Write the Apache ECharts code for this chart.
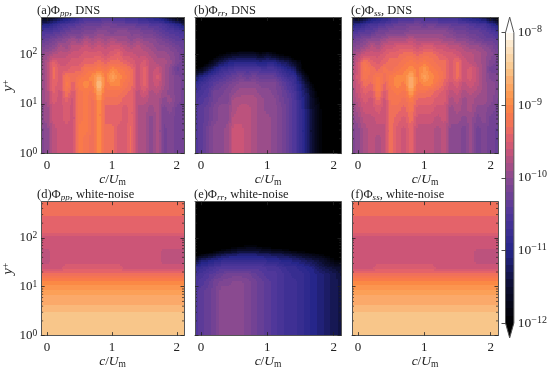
<!DOCTYPE html>
<html><head><meta charset="utf-8">
<style>html,body{margin:0;background:#fff}#c{width:550px;height:370px}</style>
<script src="https://cdn.jsdelivr.net/npm/echarts@6/dist/echarts.min.js"></script>
</head><body><div id="c"></div>
<script>
// Node positions of the value lattice. Values are log10(Phi) x 10.
const cNodes = [-0.1,0,0.1,0.2,0.3,0.4,0.5,0.6,0.7,0.8,0.9,1,1.1,1.2,1.3,1.4,1.5,1.6,1.7,1.8,1.9,2,2.12];
const yNodes = [560,400,280,200,140,100,70,50,35,25,18,12,8,5,3,2,1];
const yMinorTicks = [2,3,4,5,6,7,8,9,20,30,40,50,60,70,80,90,200,300,400,500];
const xTickValues = [0,1,2];
const yTickValues = [1,10,100];
const phiPpDns = [
[-118,-118,-116,-114,-112,-110,-108,-106,-106,-106,-105,-106,-106,-107,-108,-108,-109,-110,-111,-113,-116,-118,-120],
[-111,-111,-109,-107,-106,-105,-104,-103,-103,-103,-102,-102,-103,-103,-103,-104,-104,-105,-105,-106,-108,-110,-113],
[-106,-105,-105,-104,-103,-102,-102,-101,-101,-100,-100,-101,-100,-100,-101,-101,-102,-102,-103,-104,-105,-105,-107],
[-104,-103,-102,-101,-100,-99,-100,-98,-99,-98,-99,-98,-99,-99,-100,-99,-100,-100,-101,-102,-103,-104,-104],
[-102,-101,-100,-98,-99,-97,-97,-96,-97,-96,-97,-96,-96,-97,-98,-97,-98,-99,-100,-100,-101,-102,-103],
[-100,-99,-98,-97,-97,-96,-96,-95,-95,-95,-96,-95,-94,-96,-96,-97,-97,-98,-99,-99,-100,-101,-103],
[-100,-98,-94,-96,-96,-95,-95,-94,-94,-93,-94,-93,-93,-94,-95,-96,-95,-97,-98,-98,-99,-101,-102],
[-100,-98,-93,-95,-95,-94,-94,-92,-92,-91,-92,-90,-91,-92,-93,-96,-94,-97,-96,-98,-100,-103,-102],
[-100,-98,-93,-95,-92,-93,-92,-91,-90,-87,-91,-88,-90,-91,-93,-96,-94,-97,-95,-98,-100,-101,-102],
[-100,-98,-94,-95,-91,-94,-91,-90,-91,-85,-91,-90,-90,-92,-93,-96,-94,-97,-96,-98,-100,-101,-102],
[-100,-98,-94,-96,-92,-95,-92,-91,-92,-87,-92,-92,-92,-93,-94,-97,-95,-98,-97,-99,-100,-101,-102],
[-100,-98,-95,-96,-94,-96,-92,-91,-93,-89,-93,-93,-93,-94,-94,-97,-97,-98,-98,-100,-99,-101,-102],
[-100,-99,-96,-96,-95,-96,-92,-91,-93,-90,-94,-94,-94,-95,-94,-98,-98,-99,-98,-101,-100,-102,-102],
[-100,-99,-96,-96,-95,-96,-92,-91,-93,-90,-94,-94,-94,-95,-94,-98,-98,-100,-98,-101,-101,-102,-102],
[-101,-100,-97,-96,-96,-96,-91,-91,-93,-90,-93,-93,-95,-95,-93,-98,-98,-100,-98,-102,-101,-102,-102],
[-101,-100,-97,-96,-96,-96,-91,-92,-93,-90,-93,-93,-95,-95,-93,-98,-98,-100,-98,-102,-101,-102,-102],
[-101,-100,-97,-96,-96,-96,-91,-92,-93,-90,-93,-93,-95,-95,-93,-98,-98,-100,-98,-102,-101,-102,-102]];
const phiRrDns = [
[-125,-125,-125,-125,-125,-125,-125,-125,-125,-125,-125,-125,-125,-125,-125,-125,-125,-125,-125,-125,-125,-125,-125],
[-125,-125,-125,-125,-125,-125,-125,-125,-125,-125,-125,-125,-125,-125,-125,-125,-125,-125,-125,-125,-125,-125,-125],
[-125,-125,-125,-125,-125,-125,-125,-125,-125,-125,-125,-125,-125,-125,-125,-125,-125,-125,-125,-125,-125,-125,-125],
[-125,-125,-125,-125,-125,-125,-125,-125,-125,-125,-125,-125,-125,-125,-125,-125,-125,-125,-125,-125,-125,-125,-125],
[-125,-125,-125,-125,-125,-125,-125,-125,-125,-125,-125,-125,-125,-125,-125,-125,-125,-125,-125,-125,-125,-125,-125],
[-125,-125,-125,-123,-120,-118,-117,-116,-116,-116,-118,-116,-118,-120,-121,-125,-125,-125,-125,-125,-125,-125,-125],
[-125,-124,-120,-116,-113,-111,-110,-110,-110,-110,-111,-110,-110,-112,-113,-116,-119,-125,-125,-125,-125,-125,-125],
[-120,-118,-114,-111,-108,-107,-106,-105,-106,-105,-106,-106,-106,-108,-110,-112,-118,-122,-125,-125,-125,-125,-125],
[-113,-110,-108,-106,-105,-104,-103,-102,-103,-102,-103,-103,-103,-105,-107,-108,-113,-118,-125,-125,-125,-125,-125],
[-109,-107,-106,-104,-103,-102,-101,-100,-100,-100,-101,-101,-101,-103,-105,-107,-111,-115,-120,-125,-125,-125,-125],
[-107,-106,-105,-102,-102,-101,-100,-99,-99,-99,-100,-100,-101,-102,-104,-106,-110,-113,-118,-122,-125,-125,-125],
[-106,-105,-104,-102,-101,-101,-98,-98,-98,-98,-99,-100,-100,-102,-103,-105,-109,-112,-117,-120,-124,-125,-125],
[-105,-104,-103,-101,-100,-100,-98,-97,-97,-98,-99,-100,-100,-101,-103,-105,-108,-112,-116,-119,-123,-125,-125],
[-105,-104,-103,-101,-100,-100,-97,-97,-97,-98,-99,-99,-100,-101,-103,-105,-108,-111,-116,-119,-122,-125,-125],
[-105,-104,-102,-100,-100,-99,-96,-96,-97,-98,-99,-99,-100,-101,-103,-105,-108,-112,-116,-119,-122,-125,-125],
[-105,-104,-102,-100,-100,-99,-96,-96,-97,-98,-99,-99,-100,-101,-103,-105,-108,-112,-116,-119,-122,-125,-125],
[-105,-104,-102,-100,-100,-99,-96,-96,-97,-98,-99,-99,-100,-101,-103,-105,-108,-112,-116,-119,-122,-125,-125]];
const phiSsDns = [
[-116,-118,-116,-113,-111,-110,-108,-107,-106,-107,-105,-106,-106,-107,-108,-108,-108,-110,-111,-112,-114,-117,-120],
[-111,-110,-108,-106,-106,-105,-104,-103,-103,-102,-102,-103,-102,-103,-103,-104,-104,-104,-105,-106,-106,-109,-112],
[-106,-105,-104,-104,-102,-102,-101,-101,-101,-100,-100,-100,-100,-100,-100,-101,-102,-102,-103,-103,-104,-105,-107],
[-103,-102,-101,-100,-100,-99,-98,-98,-98,-97,-98,-98,-98,-98,-99,-99,-100,-100,-101,-102,-103,-103,-104],
[-101,-100,-99,-97,-98,-96,-96,-95,-95,-95,-96,-95,-95,-96,-96,-97,-97,-98,-99,-99,-100,-101,-103],
[-99,-98,-96,-96,-96,-95,-94,-94,-93,-93,-94,-93,-93,-94,-95,-95,-96,-97,-97,-98,-99,-100,-102],
[-99,-96,-92,-94,-95,-94,-93,-93,-92,-91,-92,-91,-92,-93,-93,-95,-93,-96,-97,-98,-99,-101,-102],
[-98,-96,-91,-93,-94,-92,-93,-92,-91,-90,-91,-89,-91,-92,-93,-95,-93,-96,-95,-97,-99,-102,-102],
[-98,-95,-92,-93,-91,-93,-91,-90,-90,-87,-91,-88,-90,-91,-93,-95,-93,-96,-95,-97,-99,-101,-101],
[-98,-96,-93,-94,-90,-94,-91,-90,-91,-86,-91,-90,-90,-92,-94,-96,-95,-97,-96,-97,-99,-100,-101],
[-99,-96,-94,-95,-91,-95,-92,-91,-92,-88,-92,-92,-93,-94,-95,-97,-96,-98,-97,-98,-99,-100,-101],
[-99,-97,-95,-96,-93,-96,-92,-92,-93,-91,-94,-94,-94,-95,-95,-98,-97,-99,-98,-99,-99,-100,-102],
[-100,-98,-96,-96,-95,-96,-93,-93,-94,-92,-95,-95,-95,-96,-96,-99,-98,-99,-98,-100,-100,-101,-102],
[-100,-99,-97,-97,-96,-96,-93,-94,-95,-93,-96,-96,-96,-97,-96,-99,-99,-100,-99,-101,-100,-102,-102],
[-101,-100,-98,-97,-97,-97,-93,-95,-96,-94,-97,-97,-97,-98,-97,-100,-100,-101,-99,-102,-101,-102,-103],
[-101,-100,-98,-97,-98,-97,-93,-95,-96,-94,-97,-97,-97,-98,-97,-100,-100,-101,-99,-102,-101,-102,-103],
[-101,-100,-98,-97,-98,-97,-93,-95,-96,-94,-97,-97,-97,-98,-97,-100,-100,-101,-99,-102,-101,-102,-103]];
const phiPpNoise = [
[-93,-93,-93,-93,-93,-93,-93,-93,-93,-93,-93,-93,-93,-93,-93,-93,-93,-93,-93,-93,-93,-93,-93],
[-93,-93,-93,-93,-93,-93,-93,-93,-93,-93,-93,-93,-93,-93,-93,-93,-93,-93,-93,-93,-93,-93,-93],
[-93.5,-93.5,-93.5,-93.5,-93.5,-93.5,-93.5,-93.5,-93.5,-93.5,-93.5,-93.5,-93.5,-93.5,-93.5,-93.5,-93.5,-93.5,-93.5,-93.5,-93.5,-93.5,-93.5],
[-94,-94,-94,-94,-94,-94,-94,-94,-94,-94,-94,-94,-94,-94,-94,-94,-94,-94,-94,-94,-94,-94,-94],
[-94,-94,-94,-94,-94,-94,-94,-94,-94,-94,-94,-94,-94,-94,-94,-94,-94,-94,-94,-94,-94,-94,-94],
[-96,-96,-96,-96,-96,-96,-96,-96,-96,-96,-96,-96,-96,-96,-96,-96,-96,-96,-96,-96,-96,-96,-96],
[-96,-96,-96,-96,-96,-96,-96,-96,-96,-96,-96,-96,-96,-96,-96,-96,-96,-96,-96,-96,-96,-96,-96],
[-97,-97,-96,-96,-96,-96,-96,-96,-96,-96,-96,-96,-96,-96,-96,-96,-96,-96,-96,-97,-97,-97,-97],
[-97,-97,-96,-96,-96,-96,-96,-96,-96,-96,-96,-96,-96,-96,-96,-96,-96,-96,-96,-97,-97,-97,-97],
[-96,-96,-96,-96,-95,-95,-95,-95,-95,-95,-95,-95,-95,-96,-96,-96,-96,-96,-96,-96,-96,-96,-96],
[-93,-93,-93,-93,-93,-93,-93,-93,-93,-93,-93,-93,-93,-93,-93,-93,-93,-93,-93,-93,-93,-93,-93],
[-90,-90,-90,-90,-90,-90,-90,-90,-90,-90,-90,-90,-90,-90,-90,-90,-90,-90,-90,-90,-90,-90,-90],
[-88,-88,-88,-88,-88,-88,-88,-88,-88,-88,-88,-88,-88,-88,-88,-88,-88,-88,-88,-88,-88,-88,-88],
[-87,-87,-87,-87,-87,-87,-87,-87,-87,-87,-87,-87,-87,-87,-87,-87,-87,-87,-87,-87,-87,-87,-87],
[-85.5,-85.5,-85.5,-85.5,-85.5,-85.5,-85.5,-85.5,-85.5,-85.5,-85.5,-85.5,-85.5,-85.5,-85.5,-85.5,-85.5,-85.5,-85.5,-85.5,-85.5,-85.5,-85.5],
[-85,-85,-85,-85,-85,-85,-85,-85,-85,-85,-85,-85,-85,-85,-85,-85,-85,-85,-85,-85,-85,-85,-85],
[-85,-85,-85,-85,-85,-85,-85,-85,-85,-85,-85,-85,-85,-85,-85,-85,-85,-85,-85,-85,-85,-85,-85]];
const phiRrNoise = [
[-125,-125,-125,-125,-125,-125,-125,-125,-125,-125,-125,-125,-125,-125,-125,-125,-125,-125,-125,-125,-125,-125,-125],
[-125,-125,-125,-125,-125,-125,-125,-125,-125,-125,-125,-125,-125,-125,-125,-125,-125,-125,-125,-125,-125,-125,-125],
[-125,-125,-125,-125,-125,-125,-125,-125,-125,-125,-125,-125,-125,-125,-125,-125,-125,-125,-125,-125,-125,-125,-125],
[-125,-125,-125,-125,-125,-125,-125,-125,-125,-125,-125,-125,-125,-125,-125,-125,-125,-125,-125,-125,-125,-125,-125],
[-125,-125,-125,-125,-125,-125,-125,-125,-125,-125,-125,-125,-125,-125,-125,-125,-125,-125,-125,-125,-125,-125,-125],
[-125,-125,-125,-125,-125,-125,-125,-125,-125,-125,-125,-125,-125,-125,-125,-125,-125,-125,-125,-125,-125,-125,-125],
[-125,-125,-125,-125,-125,-123,-122,-121,-120,-120,-121,-122,-123,-124,-125,-125,-125,-125,-125,-125,-125,-125,-125],
[-125,-122,-120,-118,-116,-115,-114,-113,-113,-113,-114,-114,-115,-115,-116,-117,-118,-119,-120,-121,-122,-123,-124],
[-116,-112,-111,-110,-109,-108,-108,-108,-108,-108,-108,-109,-109,-110,-110,-111,-112,-113,-114,-115,-117,-119,-120],
[-109,-108,-107,-106,-105,-105,-105,-105,-105,-105,-105,-106,-106,-107,-108,-108,-109,-110,-111,-113,-114,-115,-116],
[-107,-106,-105,-104,-103,-102,-102,-102,-102,-103,-104,-105,-105,-106,-107,-108,-108,-109,-110,-111,-112,-113,-115],
[-106,-105,-104,-102,-101,-101,-100,-100,-101,-102,-103,-104,-105,-106,-107,-107,-108,-109,-110,-111,-112,-113,-114],
[-105,-104,-103,-102,-100,-100,-100,-100,-101,-102,-103,-104,-105,-106,-107,-107,-108,-109,-110,-111,-112,-113,-114],
[-105,-104,-103,-102,-100,-100,-100,-100,-101,-102,-103,-104,-105,-106,-107,-107,-108,-109,-110,-111,-112,-113,-114],
[-105,-104,-103,-102,-100,-100,-100,-100,-101,-102,-103,-104,-105,-106,-107,-107,-108,-109,-110,-111,-112,-113,-114],
[-105,-104,-103,-102,-100,-100,-100,-100,-101,-102,-103,-104,-105,-106,-107,-107,-108,-109,-110,-111,-112,-113,-114],
[-105,-104,-103,-102,-100,-100,-100,-100,-101,-102,-103,-104,-105,-106,-107,-107,-108,-109,-110,-111,-112,-113,-114]];
const phiSsNoise = [
[-93,-93,-93,-93,-93,-93,-93,-93,-93,-93,-93,-93,-93,-93,-93,-93,-93,-93,-93,-93,-93,-93,-93],
[-93,-93,-93,-93,-93,-93,-93,-93,-93,-93,-93,-93,-93,-93,-93,-93,-93,-93,-93,-93,-93,-93,-93],
[-93.5,-93.5,-93.5,-93.5,-93.5,-93.5,-93.5,-93.5,-93.5,-93.5,-93.5,-93.5,-93.5,-93.5,-93.5,-93.5,-93.5,-93.5,-93.5,-93.5,-93.5,-93.5,-93.5],
[-94,-94,-94,-94,-94,-94,-94,-94,-94,-94,-94,-94,-94,-94,-94,-94,-94,-94,-94,-94,-94,-94,-94],
[-94,-94,-94,-94,-94,-94,-94,-94,-94,-94,-94,-94,-94,-94,-94,-94,-94,-94,-94,-94,-94,-94,-94],
[-96,-96,-96,-96,-96,-96,-96,-96,-96,-96,-96,-96,-96,-96,-96,-96,-96,-96,-96,-96,-96,-96,-96],
[-96,-96,-96,-96,-96,-96,-96,-96,-96,-96,-96,-96,-96,-96,-96,-96,-96,-96,-96,-96,-96,-96,-96],
[-96,-96,-96,-96,-96,-96,-96,-96,-96,-96,-96,-96,-96,-96,-96,-96,-96,-96,-96,-97,-97,-97,-97],
[-96,-96,-96,-96,-96,-96,-96,-96,-96,-96,-96,-96,-96,-96,-96,-96,-96,-96,-96,-97,-97,-97,-97],
[-96,-96,-96,-96,-95,-95,-95,-95,-95,-95,-95,-95,-95,-96,-96,-96,-96,-96,-96,-96,-96,-96,-96],
[-93,-93,-93,-93,-93,-93,-93,-93,-93,-93,-93,-93,-93,-93,-93,-93,-93,-93,-93,-93,-93,-93,-93],
[-90,-90,-90,-90,-90,-90,-90,-90,-90,-90,-90,-90,-90,-90,-90,-90,-90,-90,-90,-90,-90,-90,-90],
[-88,-88,-88,-88,-88,-88,-88,-88,-88,-88,-88,-88,-88,-88,-88,-88,-88,-88,-88,-88,-88,-88,-88],
[-87,-87,-87,-87,-87,-87,-87,-87,-87,-87,-87,-87,-87,-87,-87,-87,-87,-87,-87,-87,-87,-87,-87],
[-85.5,-85.5,-85.5,-85.5,-85.5,-85.5,-85.5,-85.5,-85.5,-85.5,-85.5,-85.5,-85.5,-85.5,-85.5,-85.5,-85.5,-85.5,-85.5,-85.5,-85.5,-85.5,-85.5],
[-85,-85,-85,-85,-85,-85,-85,-85,-85,-85,-85,-85,-85,-85,-85,-85,-85,-85,-85,-85,-85,-85,-85],
[-85,-85,-85,-85,-85,-85,-85,-85,-85,-85,-85,-85,-85,-85,-85,-85,-85,-85,-85,-85,-85,-85,-85]];
const panelLetters = ['a','b','c','d','e','f'];
const panelSubs = ['pp','rr','ss','pp','rr','ss'];
const panelSuffix = ['DNS','DNS','DNS','white-noise','white-noise','white-noise'];
const panelValues = [phiPpDns,phiRrDns,phiSsDns,phiPpNoise,phiRrNoise,phiSsNoise];
// colour map: log10 x 10 -> colour
const cmapLevels = [-120,-115,-110,-105,-100,-96,-94,-93,-91,-90,-88,-87,-85,-81,-80];
const cmapColors = ['#000000','#0c0e30','#26268a','#50379a','#8a4a90','#cc5577','#e4636a','#f0705a','#f97a4a','#fb8945','#fca058','#fba96a','#f8c68a','#fdeed8','#ffffff'];

const font = 'Liberation Serif';
const ink = '#222';
const frame = '#555';
function hex(c){return [1,3,5].map(i=>parseInt(c.substr(i,2),16));}
function colorOf(L){
  if(L<=cmapLevels[0])return cmapColors[0];
  for(let k=1;k<cmapLevels.length;k++){
    if(L<=cmapLevels[k]){
      const t=(L-cmapLevels[k-1])/(cmapLevels[k]-cmapLevels[k-1]);
      const a=hex(cmapColors[k-1]),b=hex(cmapColors[k]);
      return 'rgb('+a.map((v,i)=>Math.round(v+(b[i]-v)*t)).join(',')+')';
    }
  }
  return '#ffffff';
}
const colW=[38,195,352], rowT=[17.5,201.7], pw=146, ph=136.2;
const XMIN=-0.09,XMAX=2.11,YMAX=550;
const grids=[],xAxes=[],yAxes=[],series=[],titles=[];
const base={fontFamily:font,color:ink,fontWeight:'normal',lineHeight:15};
const rich={
  d:Object.assign({},base,{fontSize:13}),
  t:Object.assign({},base,{fontSize:12.5}),
  i:Object.assign({},base,{fontSize:13.5,fontStyle:'italic'}),
  y:Object.assign({},base,{fontSize:14,fontStyle:'italic'}),
  u:Object.assign({},base,{fontSize:9.5,verticalAlign:'top'}),
  v:Object.assign({},base,{fontSize:9.5,verticalAlign:'bottom'}),
  vi:Object.assign({},base,{fontSize:9,fontStyle:'italic',verticalAlign:'bottom'})
};
panelValues.forEach((m,p)=>{
  const col=p%3,row=Math.floor(p/3);
  grids.push({left:colW[col],top:rowT[row],width:pw,height:ph});
  const baseX={gridIndex:p,type:'value',min:XMIN,max:XMAX,z:10,splitLine:{show:false},
    axisLine:{show:true,onZero:false,lineStyle:{color:frame,width:1}},
    axisTick:{show:true,inside:true,length:3.5,customValues:xTickValues,lineStyle:{color:ink,width:0.8}}};
  xAxes.push(Object.assign({},baseX,{position:'bottom',name:'{i|c}{d|/}{i|U}{v|m}',nameLocation:'middle',nameGap:17.5,
    nameTextStyle:{rich},
    axisLabel:{show:true,customValues:xTickValues,margin:5,fontFamily:font,fontSize:13,color:ink}}));
  xAxes.push(Object.assign({},baseX,{position:'top',axisLabel:{show:false}}));
  const baseY={gridIndex:p,type:'log',logBase:10,min:1,max:YMAX,z:10,splitLine:{show:false},minorTick:{show:false},
    axisLine:{show:true,onZero:false,lineStyle:{color:frame,width:1}},
    axisTick:{show:true,inside:true,length:3.5,customValues:yTickValues,lineStyle:{color:ink,width:0.8}}};
  yAxes.push(Object.assign({},baseY,{position:'left',
    name:col===0?'{y|y}{u|+}':'',nameLocation:'middle',nameGap:25,nameRotate:90,nameTextStyle:{rich},
    axisLabel:{show:col===0,customValues:yTickValues,margin:4,
      formatter:v=>'{d|10}{u|'+Math.round(Math.log10(v))+'}',rich}}));
  yAxes.push(Object.assign({},baseY,{position:'right',axisLabel:{show:false}}));
  const xi=p*2,yi=p*2;
  const cells=[];
  for(let j=0;j<yNodes.length-1;j++)for(let i=0;i<cNodes.length-1;i++)cells.push([cNodes[i],yNodes[j],i,j]);
  series.push({type:'custom',xAxisIndex:xi,yAxisIndex:yi,clip:true,silent:true,animation:false,z:2,
    data:cells,encode:{x:0,y:1},
    renderItem:(params,api)=>{
      const i=api.value(2),j=api.value(3);
      const nx=4,ny=Math.max(2,Math.ceil(Math.abs(api.coord([0,yNodes[j+1]])[1]-api.coord([0,yNodes[j]])[1])/2));
      const ly0=Math.log10(yNodes[j]),ly1=Math.log10(yNodes[j+1]);
      const children=[];
      for(let t=0;t<ny;t++){
        const v0=(t+0.5)/ny;
        const top=Math.round(api.coord([0,Math.pow(10,ly0+(ly1-ly0)*t/ny)])[1]);
        const bot=Math.round(api.coord([0,Math.pow(10,ly0+(ly1-ly0)*(t+1)/ny)])[1]);
        if(bot<=top)continue;
        let runStart=0,runL=null;
        for(let s=0;s<=nx;s++){
          let L=null;
          if(s<nx){
            const u=(s+0.5)/nx;
            const raw=(1-u)*(1-v0)*m[j][i]+u*(1-v0)*m[j][i+1]+(1-u)*v0*m[j+1][i]+u*v0*m[j+1][i+1];
            L=Math.round(raw);
          }
          if(L!==runL){
            if(runL!==null){
              const x0=Math.round(api.coord([cNodes[i]+(cNodes[i+1]-cNodes[i])*runStart/nx,1])[0]);
              const x1=Math.round(api.coord([cNodes[i]+(cNodes[i+1]-cNodes[i])*s/nx,1])[0]);
              if(x1>x0)children.push({type:'rect',shape:{x:x0,y:top,width:x1-x0,height:bot-top},style:{fill:colorOf(runL)}});
            }
            runStart=s;runL=L;
          }
        }
      }
      return {type:'group',children};
    }});
  series.push({type:'custom',xAxisIndex:xi,yAxisIndex:yi,clip:false,silent:true,animation:false,z:5,
    data:yMinorTicks.map(v=>[0,v]),encode:{x:0,y:1},
    renderItem:(params,api)=>{
      const y=api.coord([0,api.value(1)])[1],cs=params.coordSys;
      const st={stroke:ink,lineWidth:0.7};
      return {type:'group',children:[
        {type:'line',shape:{x1:cs.x,y1:y,x2:cs.x+2,y2:y},style:st},
        {type:'line',shape:{x1:cs.x+cs.width,y1:y,x2:cs.x+cs.width-2,y2:y},style:st}]};
    }});
  titles.push({text:'{t|('+panelLetters[p]+')Φ}{vi|'+panelSubs[p]+'}{t|, '+panelSuffix[p]+'}',
    left:colW[col]-1,top:rowT[row]-14.5,padding:0,textStyle:{fontWeight:'normal',rich}});
});
// colour bar
const barLevels=[];
for(let L=-120;L<-80;L+=1)barLevels.push(L);
const bar=6;
grids.push({left:505.5,top:32.7,width:8.5,height:290.3});
xAxes.push({gridIndex:bar,type:'value',min:0,max:1,show:false});
yAxes.push({gridIndex:bar,type:'value',min:-12,max:-8,interval:1,position:'right',z:10,splitLine:{show:false},
  axisLine:{show:false},
  axisTick:{show:true,inside:true,length:4,lineStyle:{color:ink,width:0.8}},
  axisLabel:{margin:4,formatter:v=>'{d|10}{u|−'+Math.abs(v)+'}',
    rich:{d:Object.assign({},base,{fontSize:13.5,lineHeight:16}),u:Object.assign({},base,{fontSize:10,verticalAlign:'top',lineHeight:16})}}});
series.push({type:'custom',xAxisIndex:12,yAxisIndex:12,clip:true,silent:true,animation:false,z:2,
  data:barLevels.map(L=>[0,L/10,L]),encode:{x:0,y:1},
  renderItem:(params,api)=>{
    const L=api.value(2);
    const y1=Math.round(api.coord([0,(L+1)/10])[1]),y0=Math.round(api.coord([0,L/10])[1]);
    const x0=api.coord([0,0])[0],x1=api.coord([1,0])[0];
    return {type:'rect',shape:{x:x0,y:y1,width:x1-x0,height:y0-y1},style:{fill:colorOf(L+0.5)}};
  }});
series.push({type:'custom',xAxisIndex:12,yAxisIndex:12,clip:false,silent:true,animation:false,z:6,
  data:[[0,-8,0],[0,-12,1],[0,-8,2]],encode:{x:0,y:1},
  renderItem:(params,api)=>{
    const k=api.value(2);
    const P=(x,y)=>api.coord([x,y]);
    if(k===0)return {type:'polygon',shape:{points:[P(0,-8),P(1,-8),P(0.5,-7.785)]},style:{fill:'#fff'}};
    if(k===1)return {type:'polygon',shape:{points:[P(0,-12),P(1,-12),P(0.5,-12.205)]},style:{fill:'#000'}};
    return {type:'polygon',shape:{points:[P(0,-8),P(0.5,-7.785),P(1,-8),P(1,-12),P(0.5,-12.205),P(0,-12)]},style:{fill:'none',stroke:frame,lineWidth:1}};
  }});
const chart=echarts.init(document.getElementById('c'),null,{renderer:'canvas'});
chart.setOption({animation:false,backgroundColor:'#fff',title:titles,grid:grids,xAxis:xAxes,yAxis:yAxes,series});
</script></body></html>
